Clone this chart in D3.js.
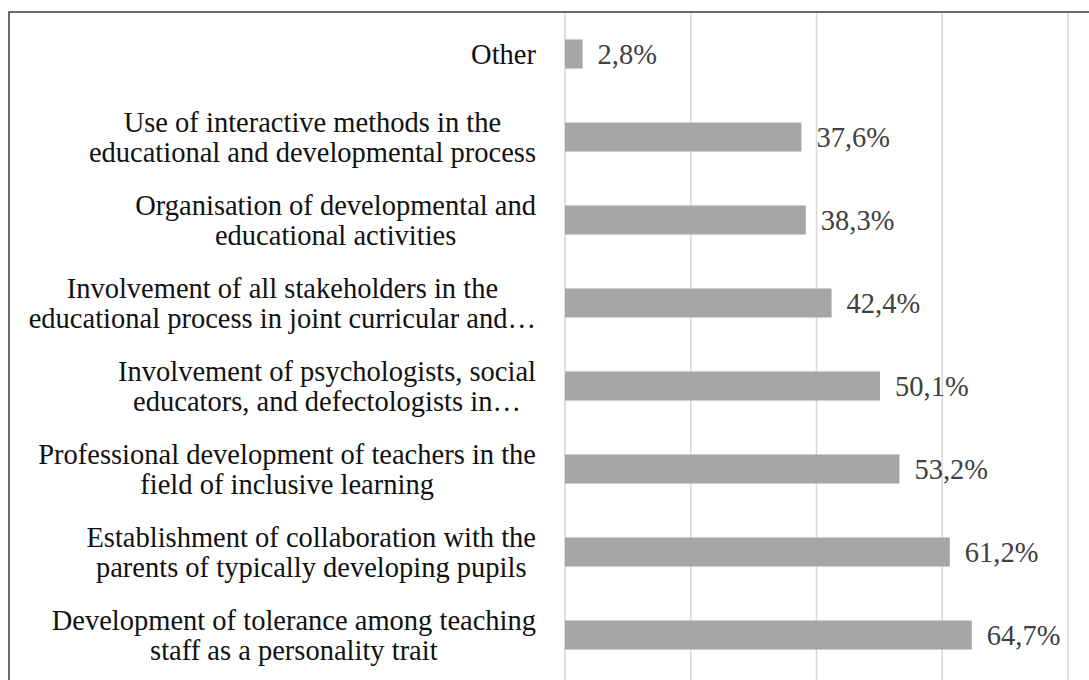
<!DOCTYPE html>
<html>
<head>
<meta charset="utf-8">
<script src="https://cdn.jsdelivr.net/npm/d3@7"></script>
<style>
  body { margin: 0; background: #fff; }
  text { font-family: "Liberation Serif", "Times New Roman", serif; }
</style>
</head>
<body>
<div id="chart"></div>
<script>
// category labels (already wrapped the way the picture shows them)
var categories = [
  ["Other"],
  ["Use of interactive methods in the", "educational and developmental process"],
  ["Organisation of developmental and", "educational activities"],
  ["Involvement of all stakeholders in the", "educational process in joint curricular and\u2026"],
  ["Involvement of psychologists, social", "educators, and defectologists in\u2026"],
  ["Professional development of teachers in the", "field of inclusive learning"],
  ["Establishment of collaboration with the", "parents of typically developing pupils"],
  ["Development of tolerance among teaching", "staff as a personality trait"]
];
var values = [2.8, 37.6, 38.3, 42.4, 50.1, 53.2, 61.2, 64.7];
var gridTicks = [0, 20, 40, 60, 80];

var svgWidth = 1089, svgHeight = 680;
var fontSize = 28.5;

var svg = d3.select("#chart").append("svg")
  .attr("width", svgWidth)
  .attr("height", svgHeight);

// x scale 0..80 %
var x = d3.scaleLinear()
  .domain([0, 80])
  .range([565, 1068]);

// y band scale, one row per category
var y = d3.scaleBand()
  .domain(d3.range(categories.length))
  .range([12.5, 676.5])
  .paddingInner(0.65)
  .paddingOuter(0.325);

// vertical gridlines
svg.append("g").selectAll("line")
  .data(gridTicks)
  .enter()
  .append("line")
    .attr("x1", d => x(d))
    .attr("x2", d => x(d))
    .attr("y1", 12)
    .attr("y2", svgHeight)
    .attr("stroke", "#d9d9d9")
    .attr("stroke-width", 1.6);

// frame (top and left edges visible)
svg.append("path")
  .attr("d", "M9," + svgHeight + "V12H" + svgWidth)
  .attr("fill", "none")
  .attr("stroke", "#3a3a3a")
  .attr("stroke-width", 1.5);

// bars
svg.append("g").selectAll("rect")
  .data(values)
  .enter()
  .append("rect")
    .attr("x", x(0))
    .attr("y", (d, i) => y(i))
    .attr("width", d => x(d) - x(0))
    .attr("height", y.bandwidth())
    .attr("fill", "#a6a6a6");

// value labels
svg.append("g").selectAll("text")
  .data(values)
  .enter()
  .append("text")
    .attr("x", d => x(d) + 15)
    .attr("y", (d, i) => y(i) + y.bandwidth() / 2)
    .attr("dy", "0.35em")
    .attr("font-size", fontSize)
    .attr("fill", "#404040")
    .text(d => d.toFixed(1).replace(".", ",") + "%");

// category labels: lines centered to each other, block right-aligned
var labelRight = 536, lineH = 30;
var labelGroups = svg.append("g").selectAll("g")
  .data(categories)
  .enter()
  .append("g");

labelGroups.each(function(lines, i) {
  var g = d3.select(this);
  var cy = y(i) + y.bandwidth() / 2;
  var texts = lines.map(function(line, k) {
    return g.append("text")
      .attr("y", cy + (k - (lines.length - 1) / 2) * lineH)
      .attr("dy", "0.35em")
      .attr("font-size", fontSize)
      .attr("fill", "#111")
      .attr("text-anchor", "middle")
      .text(line);
  });
  var maxW = d3.max(texts, t => t.node().getComputedTextLength());
  texts.forEach(t => t.attr("x", labelRight - maxW / 2));
});
</script>
</body>
</html>
